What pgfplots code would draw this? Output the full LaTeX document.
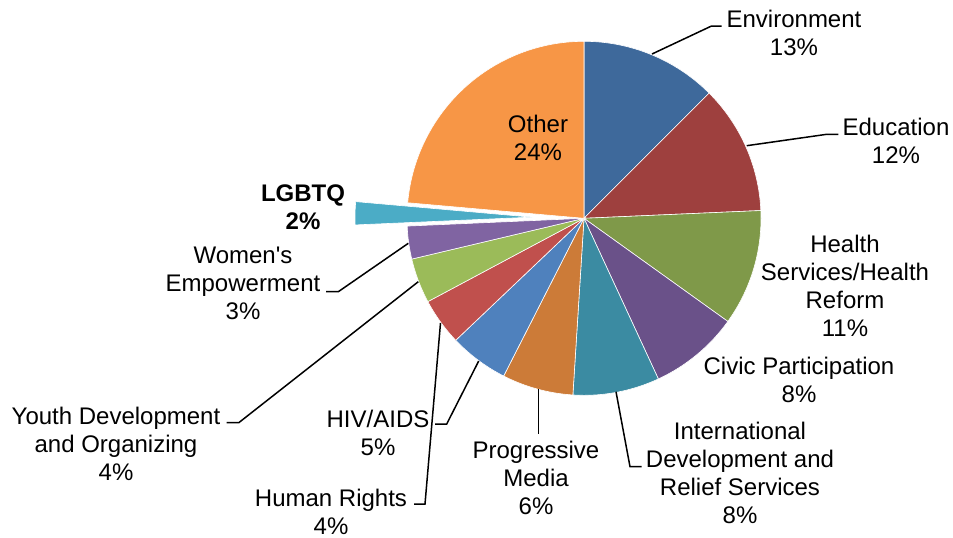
\documentclass[border=0pt]{standalone}
\usepackage{fontspec}
\setmainfont{Liberation Sans}
\usepackage{pgfplots}
\usepackage{pgfplotstable}
\pgfplotsset{compat=1.18}

\definecolor{cEnv}{RGB}{62,105,155}
\definecolor{cEdu}{RGB}{158,64,62}
\definecolor{cHealth}{RGB}{127,153,73}
\definecolor{cCivic}{RGB}{106,81,137}
\definecolor{cIntl}{RGB}{59,139,162}
\definecolor{cProg}{RGB}{204,123,56}
\definecolor{cHIV}{RGB}{79,129,189}
\definecolor{cHR}{RGB}{192,80,77}
\definecolor{cYouth}{RGB}{155,187,89}
\definecolor{cWomen}{RGB}{128,100,162}
\definecolor{cLGBTQ}{RGB}{75,172,198}
\definecolor{cOther}{RGB}{247,150,70}

% share of grants in percent, clockwise from 12 o'clock; explode in px
\pgfplotstableread{
label         value  color    explode
Environment   12.5   cEnv     0
Education     11.8   cEdu     0
Health        10.6   cHealth  0
Civic         8.2    cCivic   0
Intl          7.9    cIntl    0
Progressive   6.5    cProg    0
HIV           5.4    cHIV     0
HumanRights   4.3    cHR      0
Youth         4.1    cYouth   0
Women         3.0    cWomen   0
LGBTQ         2.1    cLGBTQ   52
Other         23.6   cOther   0
}\piedata

\tikzset{lbl/.style={font=\fontsize{12}{14}\selectfont, align=center, inner sep=0pt}}

\begin{document}
\begin{tikzpicture}
\begin{axis}[
  width=476.5pt, height=268.5pt, scale only axis,
  xmin=0, xmax=953, ymin=0, ymax=537, y dir=reverse,
  axis line style={draw=none}, ticks=none,
  clip=false,
]
\pgfmathsetmacro\cum{0}
\pgfplotsforeachungrouped \i in {0,...,11}{%
  \pgfplotstablegetelem{\i}{value}\of\piedata \let\val\pgfplotsretval
  \pgfplotstablegetelem{\i}{color}\of\piedata \let\col\pgfplotsretval
  \pgfplotstablegetelem{\i}{explode}\of\piedata \let\ex\pgfplotsretval
  \pgfmathsetmacro\aA{90-3.6*\cum}
  \pgfmathsetmacro\cum{\cum+\val}
  \pgfmathsetmacro\aB{90-3.6*\cum}
  \pgfmathsetmacro\aM{(\aA+\aB)/2}
  \pgfmathsetmacro\ccx{584+\ex*cos(\aM)}
  \pgfmathsetmacro\ccy{218.3-\ex*sin(\aM)}
  \edef\slice{\noexpand\addplot[fill=\col, draw=white, line width=0.3pt,
      domain=\aB:\aA, samples=60]
    ({\ccx+177*cos(x)}, {\ccy-177*sin(x)}) -- (axis cs:\ccx,\ccy) -- cycle;}
  \slice
}

% leader lines
\draw[black, line width=0.75pt] (axis cs:652,54) -- (axis cs:711.5,26) -- (axis cs:721.5,26);
\draw[black, line width=0.75pt] (axis cs:746.7,145.7) -- (axis cs:826.7,134.3) -- (axis cs:838.3,134.3);
\draw[black, line width=0.75pt] (axis cs:616,391.7) -- (axis cs:630,466.7) -- (axis cs:641.7,466.7);
\draw[black, line width=0.75pt] (axis cs:538.3,389.3) -- (axis cs:538.3,434);
\draw[black, line width=0.75pt] (axis cs:478.7,361) -- (axis cs:446.7,424) -- (axis cs:435,424);
\draw[black, line width=0.75pt] (axis cs:440.5,323) -- (axis cs:425,504) -- (axis cs:414,504);
\draw[black, line width=0.75pt] (axis cs:418.3,281.7) -- (axis cs:239,422.5) -- (axis cs:226.7,422.5);
\draw[black, line width=0.75pt] (axis cs:408.3,243.3) -- (axis cs:338.3,291.7) -- (axis cs:326,291.7);

% labels
\node[lbl] at (axis cs:794,32.5) {Environment\\13\%};
\node[lbl] at (axis cs:896,140.5) {Education\\12\%};
\node[lbl] at (axis cs:845,285.7) {Health\\Services/Health\\Reform\\11\%};
\node[lbl] at (axis cs:799,380) {Civic Participation\\8\%};
\node[lbl] at (axis cs:740,473) {International\\Development and\\Relief Services\\8\%};
\node[lbl] at (axis cs:536,477.5) {Progressive\\Media\\6\%};
\node[lbl] at (axis cs:378,433.3) {HIV/AIDS\\5\%};
\node[lbl] at (axis cs:331,512) {Human Rights\\4\%};
\node[lbl] at (axis cs:116,444) {Youth Development\\and Organizing\\4\%};
\node[lbl] at (axis cs:243,283) {Women\textquotesingle s\\Empowerment\\3\%};
\node[lbl, font=\fontsize{12}{14}\selectfont\bfseries] at (axis cs:303,207.5) {LGBTQ\\2\%};
\node[lbl] at (axis cs:538,137.5) {Other\\24\%};
\end{axis}
\end{tikzpicture}
\end{document}
